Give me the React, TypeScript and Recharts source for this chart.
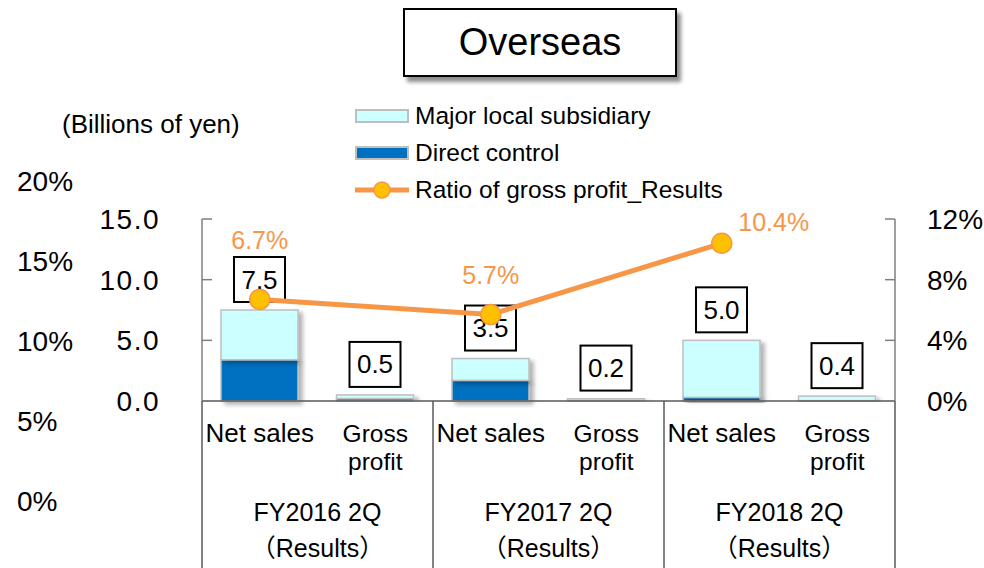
import React from 'react'
import { ComposedChart, Bar, Line, XAxis, YAxis, LabelList } from 'recharts'

const categoryLabels = ['Net sales', 'Gross\nprofit', 'Net sales', 'Gross\nprofit', 'Net sales', 'Gross\nprofit']
const periodLabels = ['FY2016 2Q', 'FY2016 2Q', 'FY2017 2Q', 'FY2017 2Q', 'FY2018 2Q', 'FY2018 2Q']
const directControl = [3.4, 0.2, 1.7, 0.05, 0.3, 0.03]
const majorSubsidiary = [4.1, 0.3, 1.8, 0.15, 4.7, 0.37]
const totals = [7.5, 0.5, 3.5, 0.2, 5.0, 0.4]
const grossProfitRatio = [6.7, null, 5.7, null, 10.4, null]
const leftTicks = [0, 5, 10, 15]
const rightTicks = [0, 4, 8, 12]
const strayPercentLabels = ['20%', '15%', '10%', '5%', '0%']
const legendLabels = ['Major local subsidiary', 'Direct control', 'Ratio of gross profit_Results']

const data = categoryLabels.map((c, i) => ({
  name: `${periodLabels[i]} ${c}`,
  direct: directControl[i],
  subsidiary: majorSubsidiary[i],
  total: totals[i],
  ratio: grossProfitRatio[i],
}))

const FONT = '"Liberation Sans", Arial, "Noto Sans CJK JP", sans-serif'
const ORANGE = '#F79646'
const AXIS = '#7F7F7F'

// where each ratio label sits relative to its dot
const ratioLabelShift: Record<number, { dx: number; dy: number }> = {
  0: { dx: 0, dy: -59 },
  2: { dx: 0, dy: -40 },
  4: { dx: 52, dy: -21 },
}

const ShadowRect = (p: any) => {
  if (!p.height || p.height <= 0) return null
  return (
    <rect x={p.x} y={p.y} width={p.width} height={p.height} fill={p.fill}
      stroke="#BFBFBF" strokeWidth={1.5} filter="url(#barShadow)" />
  )
}

// top segment of the stack, with the boxed total above it
const TopRect = (p: any) => {
  const total = p.payload?.total
  const cx = p.x + p.width / 2
  const bottom = p.y - 8
  return (
    <g>
      <ShadowRect {...p} />
      {total != null && (
        <g>
          <rect x={cx - 25.5} y={bottom - 45} width={51} height={45} fill="#fff" stroke="#000" strokeWidth={2} />
          <text x={cx} y={bottom - 22.5} textAnchor="middle" dominantBaseline="central" fontSize={26} fill="#000" fontFamily={FONT}>
            {Number(total).toFixed(1)}
          </text>
        </g>
      )}
    </g>
  )
}

const RatioLabel = (props: any) => {
  const { value, index } = props
  if (value == null) return null
  const vb = props.viewBox || props
  const x = props.x ?? vb.x
  const y = props.y ?? vb.y
  const s = ratioLabelShift[index] || { dx: 0, dy: -30 }
  return (
    <text x={x + s.dx} y={y + s.dy} textAnchor="middle" dominantBaseline="central" fontSize={25} fill={ORANGE} fontFamily={FONT}>
      {`${Number(value).toFixed(1)}%`}
    </text>
  )
}

const CategoryTick = (props: any) => {
  const { x, y, index, payload } = props
  const half = payload?.offset || 57.75
  const lines = categoryLabels[index].split('\n')
  const groupStart = index % 2 === 0
  return (
    <g>
      {lines.map((l, i) => (
        <text key={i} x={x} y={y + 41 + i * 28} textAnchor="middle" fontSize={lines.length > 1 ? 24.5 : 26} fill="#000" fontFamily={FONT}>
          {l}
        </text>
      ))}
      {groupStart && (
        <>
          <line x1={x - half} x2={x - half} y1={y} y2={y + 175} stroke="#595959" strokeWidth={1.5} />
          <text x={x + half} y={y + 120} textAnchor="middle" fontSize={25} fill="#000" fontFamily={FONT}>
            {periodLabels[index]}
          </text>
          <text x={x + half} y={y + 156} textAnchor="middle" fontSize={25} fill="#000" fontFamily={FONT}>
            （Results）
          </text>
        </>
      )}
      {index === categoryLabels.length - 1 && (
        <line x1={x + half} x2={x + half} y1={y} y2={y + 175} stroke="#595959" strokeWidth={1.5} />
      )}
    </g>
  )
}

function Legend() {
  const row: React.CSSProperties = { display: 'flex', alignItems: 'center', height: 37 }
  const text: React.CSSProperties = { fontSize: 24.5, marginLeft: 6, whiteSpace: 'nowrap' }
  return (
    <div style={{ position: 'absolute', left: 355, top: 97, fontFamily: FONT, color: '#000' }}>
      <div style={row}>
        <div style={{ width: 50, height: 10, background: '#CCFFFF', border: '2px solid #BFBFBF' }} />
        <span style={text}>{legendLabels[0]}</span>
      </div>
      <div style={row}>
        <div style={{ width: 50, height: 10, background: '#0070C0', border: '2px solid #BFBFBF' }} />
        <span style={text}>{legendLabels[1]}</span>
      </div>
      <div style={row}>
        <svg width={54} height={20}>
          <line x1={0} x2={54} y1={10} y2={10} stroke={ORANGE} strokeWidth={5} />
          <circle cx={27} cy={10} r={8} fill="#FFC000" stroke={ORANGE} strokeWidth={1.5} />
        </svg>
        <span style={text}>{legendLabels[2]}</span>
      </div>
    </div>
  )
}

export default function App() {
  return (
    <div style={{ position: 'absolute', left: 0, top: 0, width: 984, height: 568, background: '#fff', fontFamily: FONT, overflow: 'hidden' }}>
      <svg width={0} height={0} style={{ position: 'absolute' }}>
        <defs>
          <filter id="barShadow" x="-20%" y="-20%" width="150%" height="150%">
            <feDropShadow dx={4} dy={3} stdDeviation={2} floodColor="#000" floodOpacity={0.3} />
          </filter>
        </defs>
      </svg>

      <div style={{
        position: 'absolute', left: 403, top: 8, width: 270, height: 65, border: '2px solid #000',
        boxShadow: '4px 5px 4px rgba(0,0,0,0.45)', display: 'flex', alignItems: 'center',
        justifyContent: 'center', fontSize: 38, background: '#fff',
      }}>
        Overseas
      </div>

      <div style={{ position: 'absolute', left: 62, top: 109, fontSize: 26, whiteSpace: 'nowrap' }}>
        (Billions of yen)
      </div>

      {strayPercentLabels.map((t, i) => (
        <div key={t} style={{ position: 'absolute', left: 17, top: 182 + i * 80 - 17, fontSize: 28, lineHeight: '34px' }}>
          {t}
        </div>
      ))}

      <Legend />

      <div style={{ position: 'absolute', left: 0, top: 0 }}>
        <ComposedChart width={984} height={568} data={data} margin={{ top: 219, right: 0, left: 0, bottom: 0 }}>
          <XAxis
            dataKey="name"
            height={167}
            interval={0}
            tickLine={false}
            tickSize={0}
            tickMargin={0}
            axisLine={{ stroke: '#595959', strokeWidth: 1.5 }}
            tick={<CategoryTick />}
          />
          <YAxis
            yAxisId="left"
            width={202}
            domain={[0, 15]}
            ticks={leftTicks}
            tickFormatter={(v: number) => v.toFixed(1)}
            tick={{ fontSize: 28, fill: '#000', fontFamily: FONT, letterSpacing: 1.5 }}
            tickSize={-10}
            tickMargin={52}
            stroke={AXIS}
            axisLine={{ stroke: AXIS, strokeWidth: 1.5 }}
            tickLine={{ stroke: AXIS, strokeWidth: 1.5 }}
          />
          <YAxis
            yAxisId="right"
            orientation="right"
            width={89}
            domain={[0, 12]}
            ticks={rightTicks}
            tickFormatter={(v: number) => `${v}%`}
            tick={{ fontSize: 28, fill: '#000', fontFamily: FONT, textAnchor: 'start' }}
            tickSize={-10}
            tickMargin={42}
            stroke={AXIS}
            axisLine={{ stroke: AXIS, strokeWidth: 1.5 }}
            tickLine={{ stroke: AXIS, strokeWidth: 1.5 }}
          />
          <Bar yAxisId="left" dataKey="direct" stackId="s" fill="#0070C0" barSize={77} shape={<ShadowRect />} isAnimationActive={false} />
          <Bar yAxisId="left" dataKey="subsidiary" stackId="s" fill="#CCFFFF" barSize={77} shape={<TopRect />} isAnimationActive={false} />
          <Line
            yAxisId="right"
            dataKey="ratio"
            connectNulls
            stroke={ORANGE}
            strokeWidth={5}
            dot={{ r: 10, fill: '#FFC000', stroke: ORANGE, strokeWidth: 1.5 }}
            activeDot={false}
            isAnimationActive={false}
          >
            <LabelList dataKey="ratio" content={<RatioLabel />} />
          </Line>
        </ComposedChart>
      </div>
    </div>
  )
}
